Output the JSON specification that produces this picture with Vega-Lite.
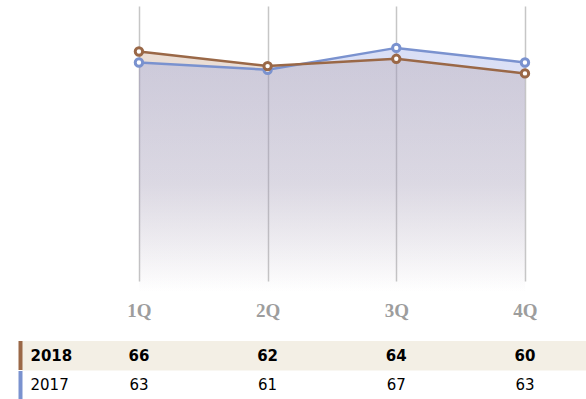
{
  "$schema": "https://vega.github.io/schema/vega-lite/v6.json",
  "background": "white",
  "padding": {"left": 3, "top": 6, "right": 0, "bottom": 0},
  "spacing": 20,
  "config": {"view": {"stroke": null}},
  "data": {
    "values": [
      {"quarter": "1Q", "year": "2018", "value": 66},
      {"quarter": "2Q", "year": "2018", "value": 62},
      {"quarter": "3Q", "year": "2018", "value": 64},
      {"quarter": "4Q", "year": "2018", "value": 60},
      {"quarter": "1Q", "year": "2017", "value": 63},
      {"quarter": "2Q", "year": "2017", "value": 61},
      {"quarter": "3Q", "year": "2017", "value": 67},
      {"quarter": "4Q", "year": "2017", "value": 63}
    ]
  },
  "vconcat": [
    {
      "width": 564,
      "height": 275,
      "encoding": {
        "x": {
          "field": "quarter",
          "type": "ordinal",
          "sort": ["1Q", "2Q", "3Q", "4Q"],
          "scale": {"type": "point", "padding": 0.6916, "align": 0.657},
          "axis": {
            "title": null,
            "domain": false,
            "ticks": false,
            "tickSize": 0,
            "labelAngle": 0,
            "labelPadding": 20,
            "labelFont": "Liberation Serif",
            "labelFontWeight": "bold",
            "labelFontSize": 19,
            "labelColor": "#9d9d9d",
            "grid": true,
            "gridColor": "#c6c6c6",
            "gridWidth": 1.5
          }
        },
        "y": {
          "field": "value",
          "type": "quantitative",
          "scale": {"domain": [3, 78.5], "zero": false, "nice": false},
          "axis": null
        }
      },
      "layer": [
        {
          "transform": [{"filter": "datum.year == '2018'"}],
          "mark": {
            "type": "area",
            "fill": {
              "gradient": "linear", "x1": 0, "y1": 0, "x2": 0, "y2": 1,
              "stops": [
                {"offset": 0, "color": "rgba(172,122,88,0.26)"},
                {"offset": 0.55, "color": "rgba(172,122,88,0.17)"},
                {"offset": 1, "color": "rgba(172,122,88,0)"}
              ]
            }
          }
        },
        {
          "transform": [{"filter": "datum.year == '2017'"}],
          "mark": {
            "type": "area",
            "fill": {
              "gradient": "linear", "x1": 0, "y1": 0, "x2": 0, "y2": 1,
              "stops": [
                {"offset": 0, "color": "rgba(150,165,228,0.36)"},
                {"offset": 0.55, "color": "rgba(150,165,228,0.24)"},
                {"offset": 1, "color": "rgba(150,165,228,0)"}
              ]
            }
          }
        },
        {
          "transform": [{"filter": "datum.year == '2017'"}],
          "mark": {"type": "line", "color": "#7a92cf", "strokeWidth": 2.5}
        },
        {
          "transform": [{"filter": "datum.year == '2018'"}],
          "mark": {"type": "line", "color": "#9a6847", "strokeWidth": 2.5}
        },
        {
          "transform": [{"filter": "datum.year == '2017'"}],
          "mark": {"type": "point", "filled": true, "fill": "white", "stroke": "#7a92cf", "strokeWidth": 3, "size": 55, "opacity": 1}
        },
        {
          "transform": [{"filter": "datum.year == '2018'"}],
          "mark": {"type": "point", "filled": true, "fill": "white", "stroke": "#9a6847", "strokeWidth": 3, "size": 55, "opacity": 1}
        }
      ]
    },
    {
      "width": 564,
      "height": 59,
      "encoding": {
        "y": {
          "field": "year",
          "type": "nominal",
          "sort": ["2018", "2017"],
          "scale": {"type": "band", "paddingInner": 0, "paddingOuter": 0},
          "axis": {
            "title": null,
            "domain": false,
            "grid": false,
            "ticks": true,
            "tickSize": 4,
            "tickWidth": 29,
            "tickCap": "butt",
            "tickColor": {"condition": {"test": "datum.value === '2018'", "value": "#9a6847"}, "value": "#7a92cf"},
            "labelAlign": "left",
            "labelBaseline": "middle",
            "labelPadding": -12,
            "labelFont": "DejaVu Sans",
            "labelFontSize": 15,
            "labelColor": "black",
            "labelFontWeight": {"condition": {"test": "datum.value === '2018'", "value": "bold"}, "value": "normal"}
          }
        }
      },
      "layer": [
        {
          "transform": [{"filter": "datum.year == '2018' && datum.quarter == '1Q'"}],
          "mark": {"type": "rect", "color": "#f3efe5"}
        },
        {
          "transform": [{"filter": "datum.year == '2018'"}],
          "mark": {"type": "text", "font": "DejaVu Sans", "fontSize": 15, "fontWeight": "bold", "baseline": "middle", "color": "black"},
          "encoding": {
            "x": {"field": "quarter", "type": "ordinal", "sort": ["1Q", "2Q", "3Q", "4Q"], "scale": {"type": "point", "padding": 0.6916, "align": 0.657}, "axis": null},
            "text": {"field": "value", "type": "quantitative"}
          }
        },
        {
          "transform": [{"filter": "datum.year == '2017'"}],
          "mark": {"type": "text", "font": "DejaVu Sans", "fontSize": 15, "baseline": "middle", "color": "black"},
          "encoding": {
            "x": {"field": "quarter", "type": "ordinal", "sort": ["1Q", "2Q", "3Q", "4Q"], "scale": {"type": "point", "padding": 0.6916, "align": 0.657}, "axis": null},
            "text": {"field": "value", "type": "quantitative"}
          }
        }
      ]
    }
  ]
}
